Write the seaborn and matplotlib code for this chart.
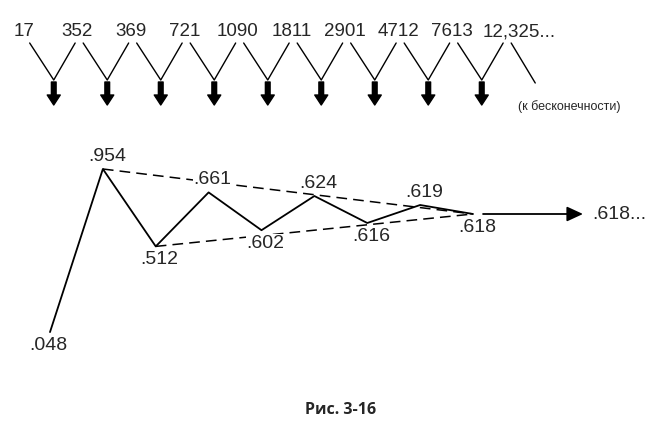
import matplotlib
matplotlib.use('Agg')
import matplotlib.pyplot as plt
import seaborn as sns
import numpy as np
import pandas as pd

# series numbers on top, ratios of neighbours below
numbers = ['17', '352', '369', '721', '1090', '1811', '2901', '4712', '7613', '12,325...']
ratios = ['.048', '.954', '.512', '.661', '.602', '.624', '.616', '.619', '.618']
# heights of the zigzag (0 = lowest, 1 = highest)
levels = [0.044, 0.95, 0.52, 0.82, 0.61, 0.80, 0.65, 0.75, 0.70]
limit_label = '.618...'
note = '(к бесконечности)'
caption = 'Рис. 3-16'

sns.set_theme(style='white')
plt.rcParams['font.family'] = ['Liberation Sans', 'DejaVu Sans']

fig = plt.figure(figsize=(6.68, 4.40), dpi=100)

# ---- top row: numbers, V's and the thick arrows ----
top = fig.add_axes([0, 0, 1, 1])
top.set_xlim(-27 / 53.5, (668 - 27) / 53.5)
top.set_ylim(440, 0)
top.axis('off')

for i, s in enumerate(numbers):
    if i == len(numbers) - 1:
        top.annotate(s, (i, 32), xytext=(-26, 0), textcoords='offset pixels',
                     ha='left', va='center', fontsize=13.5)
    else:
        top.annotate(s, (i, 32), xytext=(-3, 0), textcoords='offset pixels',
                     ha='center', va='center', fontsize=13.5)

apex = np.arange(len(ratios)) + 0.5
for a in apex:
    sns.lineplot(x=[a - 0.45, a, a + 0.40], y=[43, 80, 43], ax=top, color='black',
                 lw=1.0, sort=False, estimator=None)
    top.annotate('', xy=(a, 105), xytext=(a, 82),
                 arrowprops=dict(arrowstyle='simple,head_length=0.36,head_width=0.47,tail_width=0.17',
                                 color='black', mutation_scale=20, shrinkA=0, shrinkB=0))
# open end of the series
last = len(ratios) + 0.5
sns.lineplot(x=[last - 0.45, last], y=[43, 83], ax=top, color='black', lw=1.0,
             sort=False, estimator=None)
top.text(last - 0.32, 107, note, ha='left', va='center', fontsize=9)

# ---- bottom: the ratio zigzag converging to .618 ----
ax = fig.add_axes([0, 0, 1, 1])
ax.patch.set_alpha(0)
ax.set_xlim(0.5 - 50 / 52.875, 0.5 + 618 / 52.875)
ax.set_ylim(-100 / 180, 1 + 160 / 180)
ax.axis('off')

df = pd.DataFrame({'x': apex, 'level': levels, 'ratio': ratios})
sns.lineplot(data=df, x='x', y='level', ax=ax, color='black', lw=1.3, estimator=None)

# dashed envelopes from the first peak / first trough to the last point
for start in (1, 2):
    sns.lineplot(x=[df.x[start], df.x.iloc[-1]], y=[df.level[start], df.level.iloc[-1]],
                 ax=ax, color='black', lw=1.1, linestyle=(0, (7, 4)), estimator=None)

for k, row in df.iterrows():
    dy = -13 if k % 2 == 0 else 13
    dx = -2 if k == 0 else 4
    ax.annotate(row.ratio, (row.x, row.level), xytext=(dx, dy), textcoords='offset pixels',
                ha='center', va='center', fontsize=14,
                bbox=dict(boxstyle='square,pad=0.05', fc='white', ec='none'))

# arrow to the limit
x_end, y_end = df.x.iloc[-1], df.level.iloc[-1]
ax.annotate('', xy=(x_end + 2.08, y_end), xytext=(x_end + 0.19, y_end),
            arrowprops=dict(arrowstyle='-|>,head_length=0.65,head_width=0.3',
                            color='black', lw=1.3, mutation_scale=15, shrinkA=0, shrinkB=0))
ax.annotate(limit_label, (x_end + 2.08, y_end), xytext=(9, 0), textcoords='offset pixels',
            ha='left', va='center', fontsize=14)

fig.text(341 / 668, 1 - 410 / 440, caption, ha='center', va='center', fontsize=11.5,
         fontweight='bold', family=['Open Sans', 'DejaVu Sans'])

fig.savefig('out.png', dpi=100)
